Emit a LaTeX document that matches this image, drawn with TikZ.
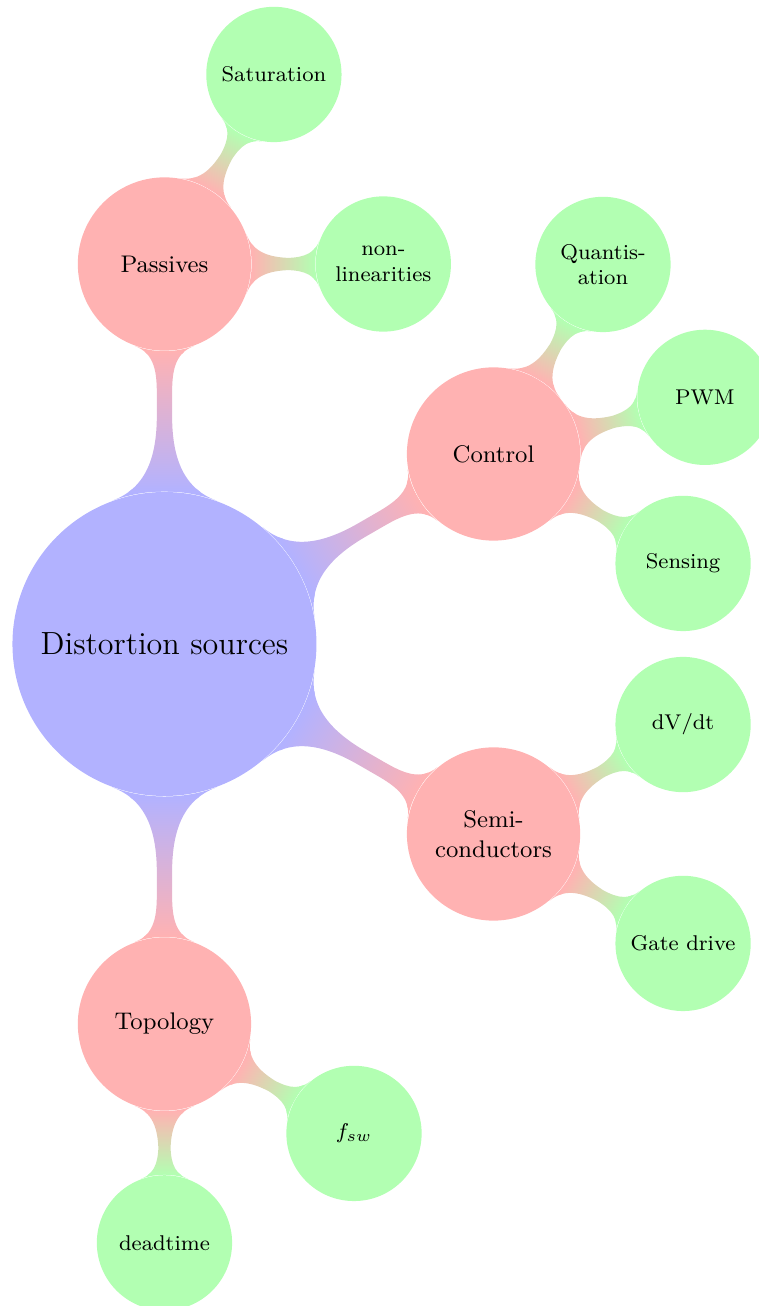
\documentclass[tikz,border=0pt]{standalone}
\usetikzlibrary{mindmap,calc,backgrounds}
\begin{document}
\begin{tikzpicture}[
  rootc/.style={circle, fill=blue!30, minimum size=4cm, inner sep=0pt, align=center, font=\large},
  lone/.style={circle, fill=red!30, minimum size=2.28cm, inner sep=0pt, align=center, font=\small},
  ltwo/.style={circle, fill=green!30, minimum size=1.78cm, inner sep=0pt, align=center, font=\footnotesize},
  barone/.style={line width=6pt, circle connection bar switch color=from (blue!30) to (red!30)},
  bartwo/.style={line width=4.2pt, circle connection bar switch color=from (red!30) to (green!30)}
]
\useasboundingbox (-2.164,-8.711) rectangle (7.822,8.474);
% level 0 and 1
\node[rootc] (root) at (0,0) {Distortion sources};
\node[lone] (pas) at (90:5) {Passives};
\node[lone] (ctl) at (30:5) {Control};
\node[lone] (sem) at (-30:5) {Semi-\\conductors};
\node[lone] (top) at (-90:5) {Topology};
% level 2
\node[ltwo] (sat) at ($(pas)+(60:2.88)$) {Saturation};
\node[ltwo] (nonl) at ($(pas)+(0:2.88)$) {non-\\linearities};
\node[ltwo] (qua) at ($(ctl)+(60:2.88)$) {Quantis-\\ation};
\node[ltwo] (pwm) at ($(ctl)+(15:2.88)$) {PWM};
\node[ltwo] (sen) at ($(ctl)+(-30:2.88)$) {Sensing};
\node[ltwo] (dvdt) at ($(sem)+(30:2.88)$) {dV/dt};
\node[ltwo] (gate) at ($(sem)+(-30:2.88)$) {Gate drive};
\node[ltwo] (fsw) at ($(top)+(-30:2.88)$) {$f_{sw}$};
\node[ltwo] (dead) at ($(top)+(-90:2.88)$) {deadtime};
% connections
\begin{scope}[on background layer]
\path (root) to[barone] (pas);
\path (root) to[barone] (ctl);
\path (root) to[barone] (sem);
\path (root) to[barone] (top);
\path (pas) to[bartwo] (sat);
\path (pas) to[bartwo] (nonl);
\path (ctl) to[bartwo] (qua);
\path (ctl) to[bartwo] (pwm);
\path (ctl) to[bartwo] (sen);
\path (sem) to[bartwo] (dvdt);
\path (sem) to[bartwo] (gate);
\path (top) to[bartwo] (fsw);
\path (top) to[bartwo] (dead);
\end{scope}
\end{tikzpicture}
\end{document}
